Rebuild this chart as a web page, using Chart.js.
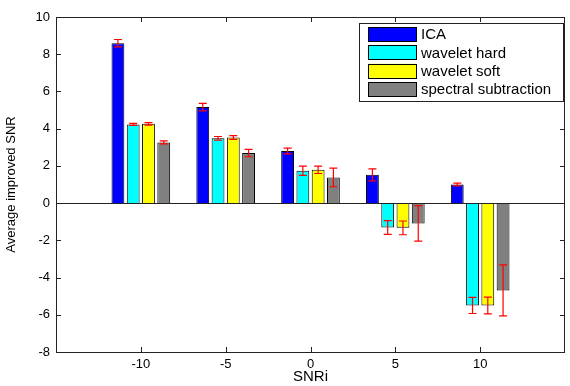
<!DOCTYPE html>
<html>
<head>
<meta charset="utf-8">
<script src="https://cdn.jsdelivr.net/npm/chart.js@4.4.0/dist/chart.umd.min.js"></script>
<style>
  html, body { margin: 0; padding: 0; background: #fff; }
  #wrap { width: 570px; height: 386px; position: relative; }
</style>
</head>
<body>
<div id="wrap"><canvas id="snrChart" width="570" height="386"></canvas></div>
<script>
// ---- data ----
const snrLevels = ["-10", "-5", "0", "5", "10"];
const seriesNames = ["ICA", "wavelet hard", "wavelet soft", "spectral subtraction"];
const seriesColors = ["#0000ff", "#00ffff", "#ffff00", "#808080"];

const icaMean = [8.59, 5.16, 2.80, 1.52, 1.00];
const icaErr = [0.20, 0.20, 0.15, 0.32, 0.07];
const hardMean = [4.23, 3.48, 1.74, -1.31, -5.50];
const hardErr = [0.05, 0.10, 0.25, 0.37, 0.43];
const softMean = [4.26, 3.53, 1.79, -1.33, -5.50];
const softErr = [0.07, 0.10, 0.20, 0.37, 0.45];
const spectralMean = [3.26, 2.69, 1.38, -1.09, -4.69];
const spectralErr = [0.08, 0.20, 0.50, 0.95, 1.37];

const yMin = -8;
const yMax = 10;
const yStep = 2;

// empty slots at both ends so the axis runs from -15 to 15 like the original
const padded = (arr) => [null, ...arr, null];
const xLabels = padded(snrLevels).map((v) => (v === null ? "" : v));

const means = [icaMean, hardMean, softMean, spectralMean];
const errs = [icaErr, hardErr, softErr, spectralErr];

const FONT = "'Liberation Sans', Arial, sans-serif";
const AXIS_COLOR = "#222";

/* ---------- plugin: box, inward ticks, zero line, error bars, legend ---------- */

const matlabLook = {
  id: "matlabLook",
  afterDatasetsDraw(chart) {
    const { ctx, chartArea: a, scales } = chart;
    const y = scales.y;

    ctx.save();
    // zero baseline
    ctx.strokeStyle = AXIS_COLOR;
    ctx.lineWidth = 1;
    const y0 = Math.round(y.getPixelForValue(0)) + 0.5;
    ctx.beginPath();
    ctx.moveTo(a.left, y0);
    ctx.lineTo(a.right, y0);
    ctx.stroke();

    // error bars
    ctx.strokeStyle = "#ff0000";
    ctx.lineWidth = 1.2;
    chart.data.datasets.forEach((ds, di) => {
      const meta = chart.getDatasetMeta(di);
      meta.data.forEach((bar, i) => {
        const v = ds.data[i];
        const e = ds.errors[i];
        if (v === null || e === null || e === undefined) return;
        const x = bar.x;
        const top = y.getPixelForValue(v + e);
        const bot = y.getPixelForValue(v - e);
        const cap = 4;
        ctx.beginPath();
        ctx.moveTo(x, top);
        ctx.lineTo(x, bot);
        ctx.moveTo(x - cap, top);
        ctx.lineTo(x + cap, top);
        ctx.moveTo(x - cap, bot);
        ctx.lineTo(x + cap, bot);
        ctx.stroke();
      });
    });
    ctx.restore();
  },
  afterDraw(chart) {
    const { ctx, chartArea: a, scales } = chart;
    const x = scales.x;
    const y = scales.y;
    const tick = 5;

    ctx.save();
    ctx.strokeStyle = AXIS_COLOR;
    ctx.lineWidth = 1;
    ctx.strokeRect(Math.round(a.left) + 0.5, Math.round(a.top) + 0.5,
      Math.round(a.right - a.left) - 1, Math.round(a.bottom - a.top));

    ctx.beginPath();
    y.ticks.forEach((t) => {
      const py = Math.round(y.getPixelForValue(t.value)) + 0.5;
      ctx.moveTo(a.left, py);
      ctx.lineTo(a.left + tick, py);
      ctx.moveTo(a.right, py);
      ctx.lineTo(a.right - tick, py);
    });
    xLabels.forEach((lab, i) => {
      if (lab === "") return;
      const px = Math.round(x.getPixelForValue(i)) + 0.5;
      ctx.moveTo(px, a.bottom);
      ctx.lineTo(px, a.bottom - tick);
      ctx.moveTo(px, a.top);
      ctx.lineTo(px, a.top + tick);
    });
    ctx.stroke();

    // legend box in the upper right corner
    const boxRight = a.right - 2;
    const boxLeft = boxRight - 204;
    const boxTop = a.top + 6;
    const rowH = 18.4;
    const boxH = 78;
    ctx.fillStyle = "#fff";
    ctx.fillRect(boxLeft, boxTop, boxRight - boxLeft, boxH);
    ctx.strokeStyle = AXIS_COLOR;
    ctx.strokeRect(Math.round(boxLeft) + 0.5, Math.round(boxTop) + 0.5,
      Math.round(boxRight - boxLeft), boxH);

    ctx.font = "15px " + FONT;
    ctx.textBaseline = "middle";
    ctx.textAlign = "left";
    chart.data.datasets.forEach((ds, di) => {
      const cy = boxTop + 11 + di * rowH;
      const sx = boxLeft + 9;
      ctx.fillStyle = ds.backgroundColor;
      ctx.fillRect(sx, cy - 7, 48, 14);
      ctx.strokeStyle = "#000";
      ctx.strokeRect(Math.round(sx) + 0.5, Math.round(cy - 7) + 0.5, 48, 14);
      ctx.fillStyle = "#000";
      ctx.fillText(ds.label, sx + 53, cy + 1);
    });
    ctx.restore();
  }
};

/* ---------- chart ---------- */

const datasets = seriesNames.map((name, i) => ({
  label: name,
  data: padded(means[i]),
  errors: padded(errs[i]),
  backgroundColor: seriesColors[i],
  borderColor: "#000",
  borderWidth: 1,
  categoryPercentage: 0.72,
  barPercentage: 0.84
}));

const ctx = document.getElementById("snrChart").getContext("2d");
new Chart(ctx, {
  type: "bar",
  data: { labels: xLabels, datasets },
  options: {
    responsive: false,
    animation: false,
    devicePixelRatio: 1,
    layout: { padding: { top: 17, right: 1, left: 0, bottom: 0 } },
    plugins: {
      legend: { display: false },
      tooltip: { enabled: false }
    },
    scales: {
      x: {
        type: "category",
        offset: false,
        grid: { display: false, drawTicks: false, offset: false },
        border: { display: false },
        ticks: {
          color: "#000",
          font: { family: FONT, size: 13 },
          padding: 5,
          maxRotation: 0,
          autoSkip: false
        },
        title: {
          display: true,
          text: "SNRi",
          color: "#000",
          font: { family: FONT, size: 15 },
          padding: { top: 0, bottom: 0 }
        },
        afterFit(scale) { scale.height = 34; }
      },
      y: {
        min: yMin,
        max: yMax,
        grid: { display: false, drawTicks: false },
        border: { display: false },
        ticks: {
          stepSize: yStep,
          color: "#000",
          font: { family: FONT, size: 13 },
          padding: 6
        },
        title: {
          display: true,
          text: "Average improved SNR",
          color: "#000",
          font: { family: FONT, size: 13 },
          padding: { top: 4, bottom: 0 }
        },
        afterFit(scale) { scale.width = 56; }
      }
    }
  },
  plugins: [matlabLook]
});
</script>
</body>
</html>
